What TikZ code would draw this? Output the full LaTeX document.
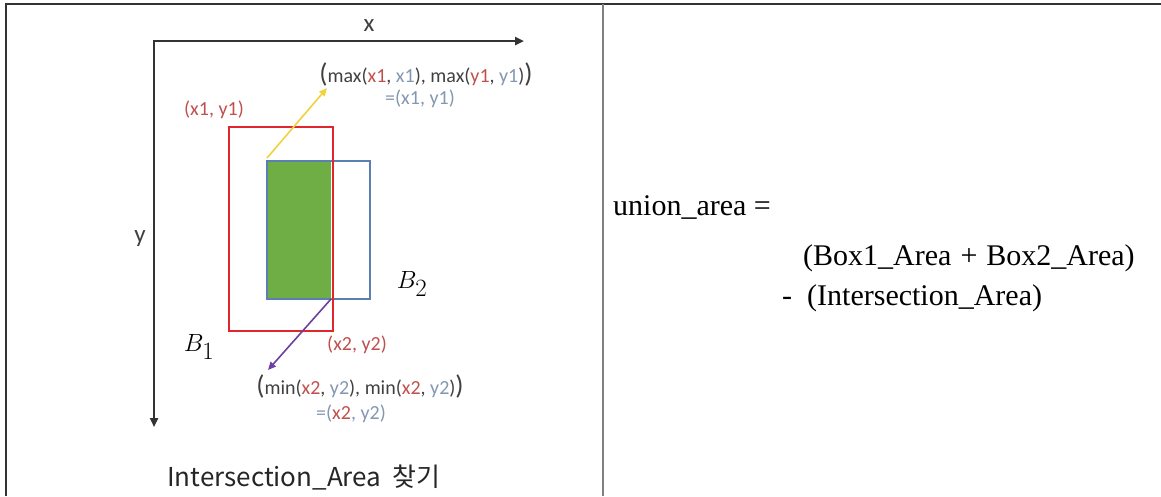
\documentclass[tikz,border=0pt]{standalone}
\usepackage{fontspec}
\setmainfont{Liberation Serif}
\newfontfamily\calfont{Carlito}
\newfontfamily\korfont{Noto Sans CJK KR}
\usetikzlibrary{arrows.meta}
\definecolor{tred}{HTML}{C0504D}
\definecolor{tgray}{HTML}{8497B0}
\definecolor{tdark}{HTML}{404040}
\definecolor{boxred}{HTML}{E0262E}
\definecolor{boxblue}{HTML}{5B7FB2}
\definecolor{fillgreen}{HTML}{6FAD45}
\definecolor{arryellow}{HTML}{F2D23C}
\definecolor{arrpurple}{HTML}{7040A0}
\newcommand{\rd}[1]{\textcolor{tred}{#1}}
\newcommand{\gy}[1]{\textcolor{tgray}{#1}}
\newcommand{\bigp}[1]{{\fontsize{27}{27}\selectfont #1}}
\begin{document}
\begin{tikzpicture}[x=1pt,y=-1pt,
  border/.style={line width=2pt, draw=black!80},
  midrule/.style={line width=2pt, draw=black!50},
  axis/.style={line width=2.4pt, draw=black!80, line join=miter,
    {Triangle[length=9pt,width=8pt]}-{Triangle[length=9pt,width=8pt]}},
  rect/.style={inner sep=0pt, line width=2pt, anchor=north west},
  lbl/.style={font=\calfont\fontsize{20}{22}\selectfont, text=tdark, inner sep=0pt},
  axlbl/.style={font=\calfont\fontsize{25}{27}\selectfont, text=tdark, inner sep=0pt},
  blbl/.style={font=\fontsize{33}{35}\selectfont, text=black, inner sep=0pt},
  ptr/.style={line width=1.6pt, -{Triangle[length=8pt,width=7pt]}},
  rtext/.style={font=\fontsize{30}{34}\selectfont, anchor=base west, inner sep=0pt},
  captext/.style={font=\korfont\fontsize{26}{28}\selectfont, text=black!85, inner sep=0pt}
]
\useasboundingbox (0,0) rectangle (1161,496);
% table lines
\coordinate (tl) at (6,4);
\coordinate (tr) at (1161,4);
\coordinate (bl) at (6,496);
\coordinate (mt) at (603,4);
\coordinate (mb) at (603,496);
\draw[border] (bl) -- (tl) -- (tr);
\draw[midrule] (mt) -- (mb);
% axes
\coordinate (O) at (154,41);
\coordinate (xe) at (524,41);
\coordinate (ye) at (154,427);
\draw[axis] (ye) -- (O) -- (xe);
\node[axlbl] (xl) at (369,26) {x};
\node[axlbl] (yl) at (140,239) {y};
% boxes
\node[rect, fill=fillgreen, minimum width=64pt, minimum height=138pt] (gr) at (266,160) {};
\node[rect, draw=boxblue, minimum width=103pt, minimum height=138pt] (b2) at (266,160) {};
\node[rect, draw=boxred, minimum width=104pt, minimum height=204pt] (b1) at (228,126) {};
% labels
\node[lbl, text=tred] (p1) at (214,110) {(x1, y1)};
\node[lbl] (maxl) at (426,74) {\bigp{(}max(\rd{x1}, \gy{x1}), max(\rd{y1}, \gy{y1})\bigp{)}};
\node[lbl, text=tgray] (eq1) at (420,99) {=(x1, y1)};
\node[lbl, text=tred] (p2) at (357,345) {(x2, y2)};
\node[lbl] (minl) at (360,386) {\bigp{(}min(\rd{x2}, \gy{y2}), min(\rd{x2}, \gy{y2})\bigp{)}};
\node[lbl, text=tgray] (eq2) at (351,414) {=(\rd{x2}, y2)};
\node[blbl] (B2l) at (412,284) {$B_2$};
\node[blbl] (B1l) at (199,347) {$B_1$};
% pointers
\coordinate (ys) at (267,158);
\coordinate (yt) at (327,88);
\draw[ptr, draw=arryellow, fill=arryellow] (ys) -- (yt);
\coordinate (ps) at (331,299);
\coordinate (pt) at (268,370);
\draw[ptr, draw=arrpurple, fill=arrpurple] (ps) -- (pt);
% caption
\node[captext] (cap) at (304,478) {Intersection\_Area\ \ 찾기};
% right column
\node[rtext] (u1) at (613,215) {union\_area =};
\node[rtext] (u2) at (803,265) {(Box1\_Area\hspace{9pt}+\hspace{9pt}Box2\_Area)};
\node[rtext] (u3) at (782,305) {- \ (Intersection\_Area)};
\end{tikzpicture}
\end{document}
